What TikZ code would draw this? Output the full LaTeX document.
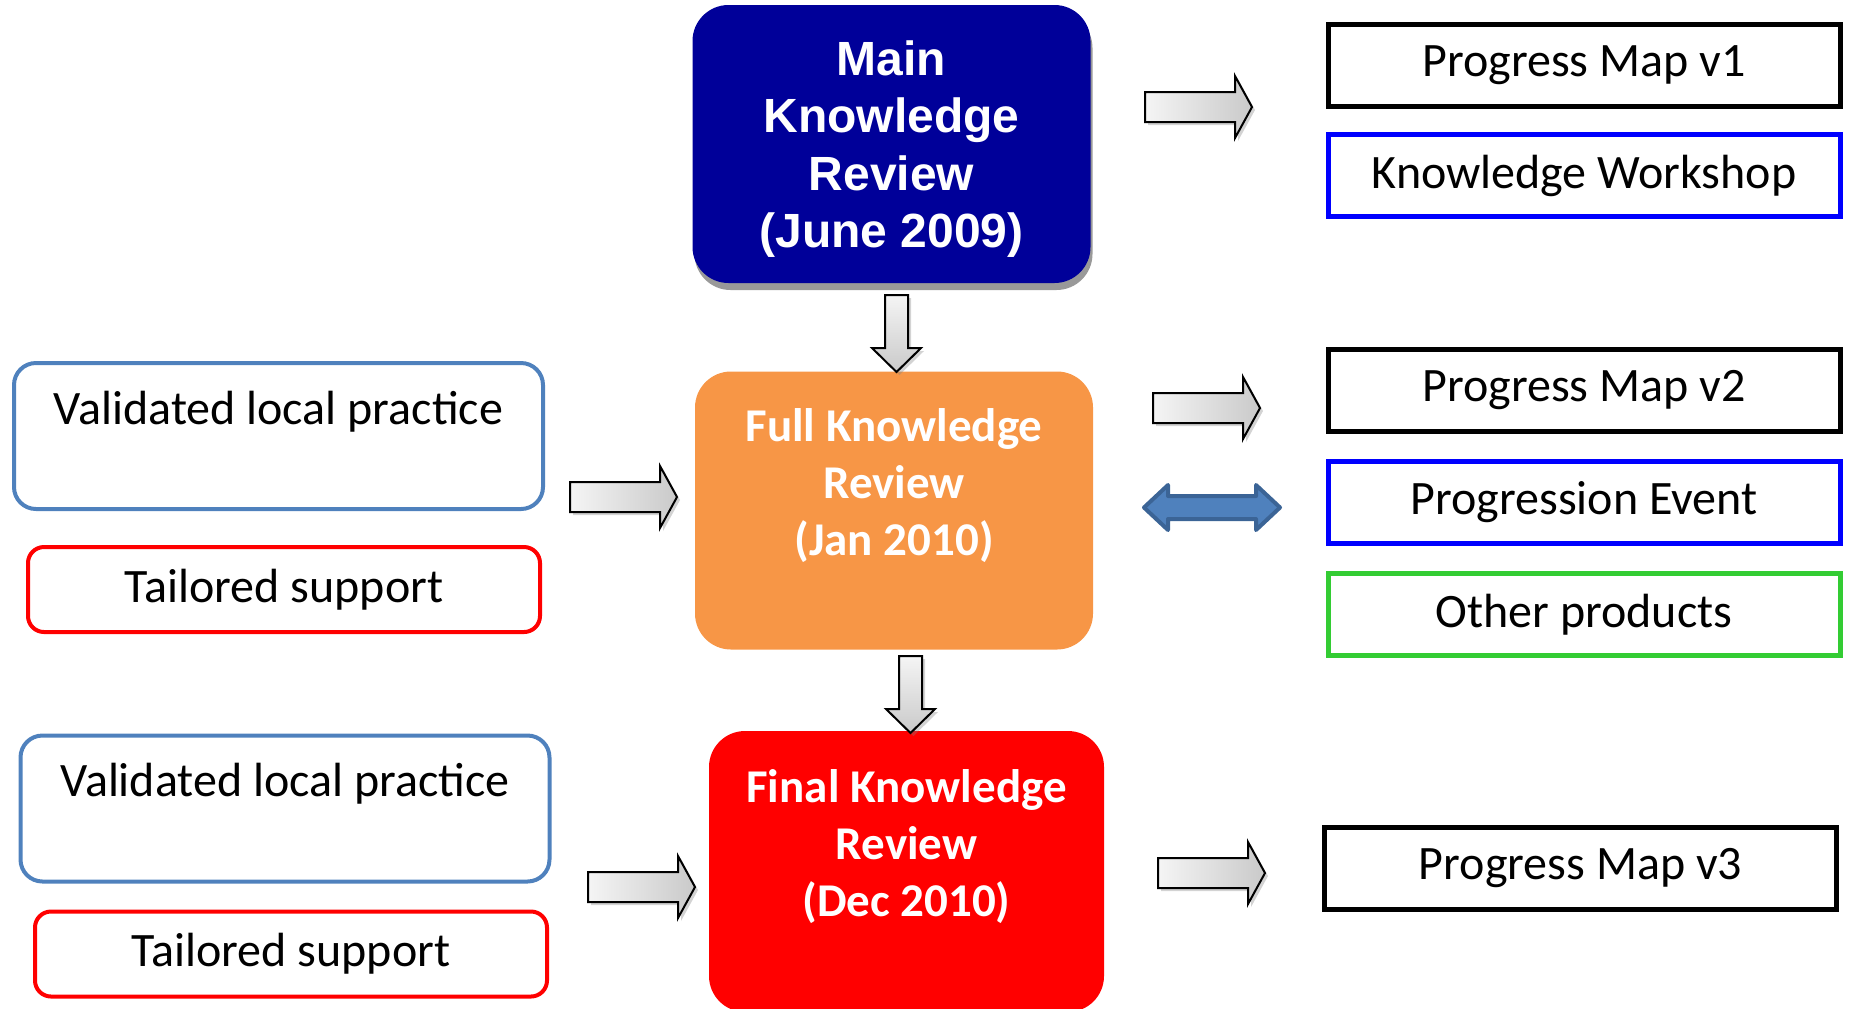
\documentclass[tikz,border=0pt]{standalone}
\usepackage{fontspec}
\setmainfont{Carlito}
\newfontfamily\arialfont{Liberation Sans}
\usetikzlibrary{shadows}

\definecolor{mainblue}{RGB}{0,0,153}
\definecolor{fullorange}{RGB}{247,150,70}
\definecolor{localblue}{RGB}{79,129,189}
\definecolor{arrowblue}{RGB}{59,100,150}
\definecolor{prodgreen}{RGB}{51,204,51}

\tikzset{
  outbox/.style={draw, line width=2.5pt, minimum width=256pt, minimum height=41pt,
    inner sep=0pt, font=\fontsize{24}{28.5}\selectfont},
  localbox/.style={draw=localblue, line width=2pt, rounded corners=11pt,
    minimum width=264.5pt, minimum height=73pt, align=center,
    font=\fontsize{24}{28.5}\selectfont},
  supportbox/.style={draw=red, line width=2pt, rounded corners=8pt,
    minimum width=256pt, minimum height=42.5pt,
    font=\fontsize{24}{28.5}\selectfont},
  review/.style={rounded corners=18pt, text=white, align=center,
    minimum width=199pt, minimum height=139pt,
    font=\bfseries\fontsize{23.5}{28.5}\selectfont},
  grayarrow/.style={draw=black, line width=1pt, line join=miter,
    drop shadow={shadow xshift=1.5pt, shadow yshift=-1.5pt, opacity=0.35}},
  harrow/.pic={
    \draw[grayarrow, left color=gray!8, right color=gray!42]
      (0,-15) -- (90,-15) -- (90,-31) -- (107,0) -- (90,31) -- (90,15) -- (0,15) -- cycle;
  },
  varrow/.pic={
    \draw[grayarrow, top color=gray!8, bottom color=gray!42]
      (-11.5,0) -- (-11.5,53) -- (-24.5,53) -- (0,77) -- (24.5,53) -- (11.5,53) -- (11.5,0) -- cycle;
  }
}

\begin{document}
\begin{tikzpicture}[x=0.5pt, y=-0.5pt]
\useasboundingbox (0,0) rectangle (1850,1008);

% reviews
\node[review, fill=mainblue, font=\arialfont\bfseries\fontsize{24}{28.7}\selectfont,
  drop shadow={shadow xshift=1pt, shadow yshift=-3.5pt, fill=black!40, opacity=1}]
  (mkr) at (891.5,144) {\rule{0pt}{22.5pt}Main\\Knowledge\\Review\\(June 2009)};
\node[review, fill=fullorange] (fkr) at (894,510.5) {Full Knowledge\\Review\\(Jan 2010)\\\mbox{}};
\node[review, fill=red, minimum width=197.5pt, minimum height=140.5pt]
  (dkr) at (906.5,871.5) {Final Knowledge\\Review\\(Dec 2010)\\\mbox{}};

% inputs
\node[localbox] (vlp1) at (278.5,436) {Validated local practice\\\mbox{}};
\node[supportbox] (ts1) at (284,589.5) {Tailored support};
\node[localbox] (vlp2) at (285,808.5) {Validated local practice\\\mbox{}};
\node[supportbox] (ts2) at (291,954) {Tailored support};

% products
\node[outbox] (pm1) at (1584,65.5) {Progress Map v1};
\node[outbox, draw=blue] (kw) at (1584,175.5) {Knowledge Workshop};
\node[outbox] (pm2) at (1584,390.5) {Progress Map v2};
\node[outbox, draw=blue] (pe) at (1584,502) {Progression Event};
\node[outbox, draw=prodgreen] (op) at (1584,614.5) {Other products};
\node[outbox] (pm3) at (1580.5,868) {Progress Map v3};

% arrows
\pic at (1145,107) {harrow};
\pic at (1153,408) {harrow};
\pic at (1158,873) {harrow};
\pic at (570,497) {harrow};
\pic at (588,887) {harrow};
\pic at (896.5,295) {varrow};
\pic at (910.5,656) {varrow};

\draw[fill=localblue, draw=arrowblue, line width=2pt, line join=round]
  (1144,507.5) -- (1168,485) -- (1168,496) -- (1256,496) -- (1256,485) -- (1280,507.5)
  -- (1256,530) -- (1256,519) -- (1168,519) -- (1168,530) -- cycle;

\end{tikzpicture}
\end{document}
